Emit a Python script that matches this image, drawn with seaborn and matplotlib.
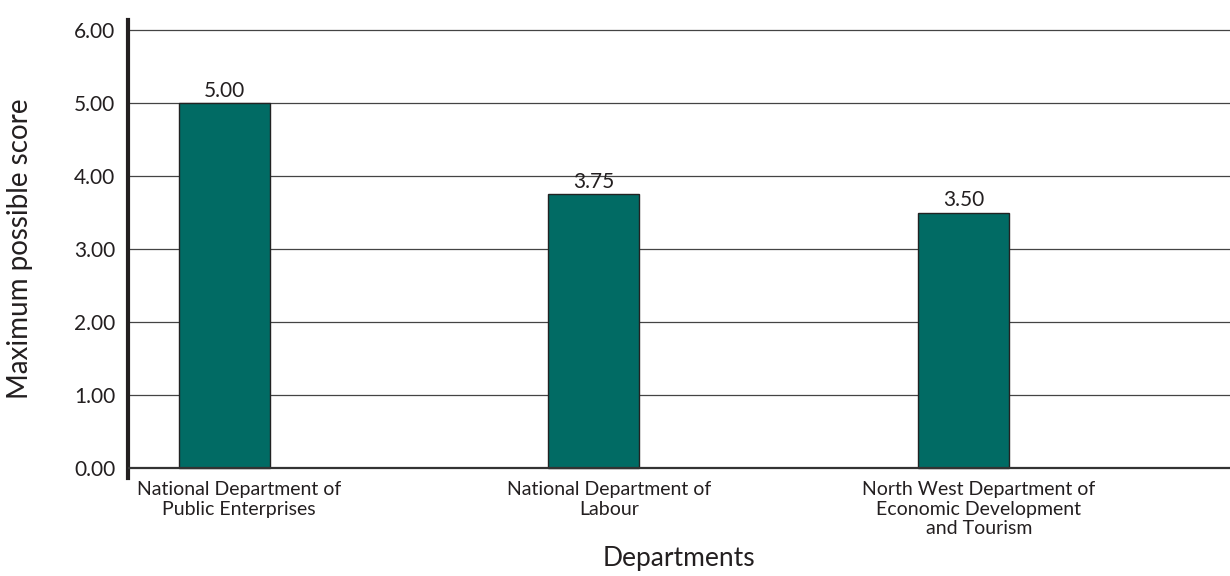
import matplotlib
matplotlib.use("Agg")
import matplotlib.pyplot as plt
import matplotlib.transforms as mtransforms
import seaborn as sns
import pandas as pd

departments = [
    "National Department of\nPublic Enterprises",
    "National Department of\nLabour",
    "North West Department of\nEconomic Development\nand Tourism",
]
scores = [5.00, 3.75, 3.50]
y_ticks = [0, 1, 2, 3, 4, 5, 6]

sns.set_style("white")
plt.rcParams["font.family"] = ["Lato", "DejaVu Sans"]

text_color = "#231f20"
bar_color = "#016b64"

df = pd.DataFrame({"Department": departments, "Score": scores})

fig = plt.figure(figsize=(12.3, 5.76), dpi=100)
ax = fig.add_axes([0.104, 0.170, 0.896, 0.795])

sns.barplot(data=df, x="Department", y="Score", color=bar_color,
            saturation=1, width=0.246, edgecolor="#222222", linewidth=1.0,
            ax=ax, zorder=3)

ax.set_xlim(-0.26, 2.72)
ax.set_ylim(-0.14, 6.14)
ax.set_yticks(y_ticks)
ax.set_yticklabels([f"{v:.2f}" for v in y_ticks], fontsize=15, color=text_color)

# horizontal gridlines and the zero baseline
for v in y_ticks[1:]:
    ax.axhline(v, color="#444444", linewidth=0.9, zorder=1)
ax.axhline(0, color="#333333", linewidth=1.6, zorder=4)

for side in ["top", "right", "bottom"]:
    ax.spines[side].set_visible(False)
ax.spines["left"].set_linewidth(3)
ax.spines["left"].set_color("#231f20")

ax.tick_params(axis="y", length=8, width=0.9, color="#444444", pad=1, direction="out")
ax.tick_params(axis="x", length=0, pad=2, labelsize=14, labelcolor=text_color)

# shift category labels slightly right of bar centres
offset = mtransforms.ScaledTranslation(0.15, 0, fig.dpi_scale_trans)
for lbl in ax.get_xticklabels():
    lbl.set_transform(lbl.get_transform() + offset)
    lbl.set_linespacing(1.2)

for container in ax.containers:
    ax.bar_label(container, fmt="%.2f", padding=2, fontsize=15, color=text_color)

ax.set_xlabel("Departments", fontsize=19, color=text_color, labelpad=6)
ax.set_ylabel("Maximum possible score", fontsize=20, color=text_color, labelpad=30)

fig.savefig("out.png", dpi=100, facecolor="white")
